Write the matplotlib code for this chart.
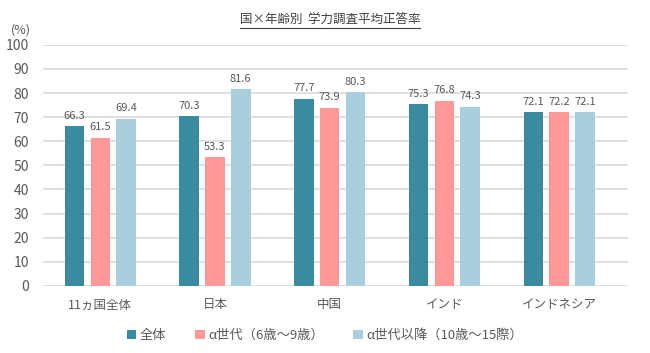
import matplotlib
matplotlib.use("Agg")
import matplotlib.pyplot as plt
import numpy as np
from matplotlib.lines import Line2D

plt.rcParams['font.family'] = ['Noto Sans CJK JP', 'DejaVu Sans']

categories = ["11ヵ国全体", "日本", "中国", "インド", "インドネシア"]
series_names = ["全体", "α世代（6歳～9歳）", "α世代以降（10歳～15際）"]
overall = [66.3, 70.3, 77.7, 75.3, 72.1]
alpha_gen = [61.5, 53.3, 73.9, 76.8, 72.2]
post_alpha = [69.4, 81.6, 80.3, 74.3, 72.1]
colors = ["#3A8BA0", "#FF9999", "#A9CEDD"]
text_color = "#595959"

fig = plt.figure(figsize=(6.5, 3.53), dpi=100)
ax = fig.add_axes([0.066, 0.19, 0.90, 0.683])

x = np.arange(len(categories))
w = 0.17
step = 0.225
for i, (vals, c, name) in enumerate(zip([overall, alpha_gen, post_alpha], colors, series_names)):
    pos = x + (i - 1) * step
    ax.bar(pos, vals, width=w, color=c, label=name, zorder=3)
    for p, v in zip(pos, vals):
        ax.text(p, v + 2.2, f"{v:.1f}", ha="center", va="bottom", fontsize=8, color=text_color)

ax.set_ylim(0, 100)
ax.set_xlim(-0.5, len(categories) - 0.4)
ax.set_yticks(range(0, 101, 10))
ax.yaxis.grid(True, color="#D9D9D9", linewidth=1.2, zorder=0)
ax.set_xticks(x)
ax.set_xticklabels(categories)
ax.tick_params(axis="both", length=0, colors=text_color)
ax.tick_params(axis="y", labelsize=10, pad=10)
ax.tick_params(axis="x", labelsize=9, pad=9)
for s in ax.spines.values():
    s.set_visible(False)

fig.text(0.032, 0.915, "(%)", fontsize=9, color=text_color, ha="center", va="center")

title = fig.text(0.508, 0.945, "国×年齢別  学力調査平均正答率", fontsize=9, color="#404040",
                 ha="center", va="center")
fig.canvas.draw()
bb = title.get_window_extent().transformed(fig.transFigure.inverted())
fig.add_artist(Line2D([bb.x0, bb.x1], [bb.y0 - 0.005, bb.y0 - 0.005], color="#404040",
                      linewidth=0.8, transform=fig.transFigure))

fig.legend(loc="center", bbox_to_anchor=(0.5, 0.05), ncol=3, frameon=False, fontsize=9.5,
           handlelength=0.7, handleheight=0.7, handletextpad=0.3, columnspacing=2.2,
           labelcolor=text_color)

fig.savefig("out.png", dpi=100)
